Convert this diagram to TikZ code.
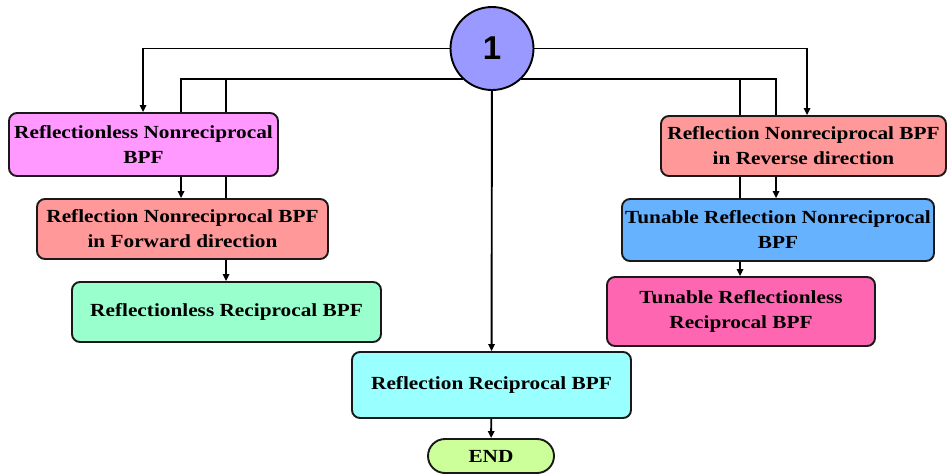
\documentclass[tikz,border=0pt]{standalone}
\usepackage{fontspec}
\setmainfont{Liberation Serif}[FakeStretch=1.15]
\newfontfamily\numfont{Liberation Sans}
\usetikzlibrary{arrows.meta,backgrounds}
\definecolor{cA}{HTML}{FF99FF}
\definecolor{cB}{HTML}{FF9999}
\definecolor{cC}{HTML}{99FFCC}
\definecolor{cD}{HTML}{99FFFF}
\definecolor{cEnd}{HTML}{CCFF99}
\definecolor{cF}{HTML}{66B2FF}
\definecolor{cG}{HTML}{FF66B2}
\definecolor{cCirc}{HTML}{9999FF}
\tikzset{
  box/.style={draw=black!90, line width=1.9pt, rounded corners=8pt, align=center,
    font=\fontsize{18.5}{25}\selectfont\bfseries, inner sep=0pt},
  arr/.style={line width=1.9pt, -{Triangle[length=7pt,width=6.5pt]}},
}
\begin{document}
\begin{tikzpicture}[x=1pt,y=-1pt]
\useasboundingbox (0,0) rectangle (948,474);
\node[circle, draw=black, line width=1.9pt, fill=cCirc, minimum size=83pt, inner sep=0pt,
  font=\numfont\fontsize{33}{33}\selectfont\bfseries] (c) at (492,48.5) {1};
\node[box, fill=cA, minimum width=269pt, minimum height=63pt] (A) at (143.5,144.5) {Reflectionless Nonreciprocal\\BPF};
\node[box, fill=cB, minimum width=291pt, minimum height=60pt] (B) at (182.5,229) {Reflection Nonreciprocal BPF\\in Forward direction};
\node[box, fill=cC, minimum width=309pt, minimum height=60pt] (C) at (226.5,312) {Reflectionless Reciprocal BPF};
\node[box, fill=cD, minimum width=279pt, minimum height=66pt] (D) at (491.5,385) {Reflection Reciprocal BPF};
\node[box, fill=cEnd, rounded corners=17pt, minimum width=126pt, minimum height=34pt] (END) at (491,456) {END};
\node[box, fill=cB, minimum width=285pt, minimum height=60pt] (E) at (803.5,146) {Reflection Nonreciprocal BPF\\in Reverse direction};
\node[box, fill=cF, minimum width=312pt, minimum height=62pt] (F) at (778,230) {Tunable Reflection Nonreciprocal\\BPF};
\node[box, fill=cG, minimum width=268pt, minimum height=69pt] (G) at (741,311.5) {Tunable Reflectionless\\Reciprocal BPF};
\begin{scope}[on background layer]
\draw[arr] (c.west) -| ([xshift=135pt]A.north west);
\draw[arr] (c.226) -| ([xshift=145pt]B.north west);
\draw[arr] (c.226) -| ([xshift=155pt]C.north west);
\draw[arr] (c.east) -| ([xshift=147pt]E.north west);
\draw[arr] (c.314) -| ([xshift=155pt]F.north west);
\draw[arr] (c.314) -| ([xshift=134pt]G.north west);
\draw[arr] (c) -- (D);
\draw[arr] (D) -- (END);
\end{scope}
\end{tikzpicture}
\end{document}
